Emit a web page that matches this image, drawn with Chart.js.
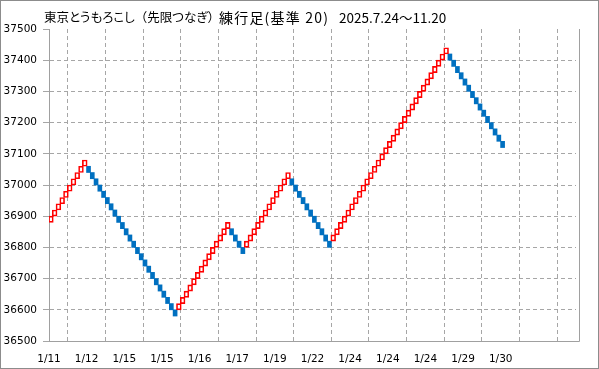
<!DOCTYPE html>
<html>
<head>
<meta charset="utf-8">
<script src="https://cdn.jsdelivr.net/npm/chart.js@4"></script>
<style>
body { margin: 0; background: #fff; }
#wrap { position: relative; width: 599px; height: 369px; box-sizing: border-box; border: 1px solid #8c8c8c; }
canvas { display: block; }
.ttl { position: absolute; top: 7px; font: 12.5px "Noto Sans CJK JP"; font-feature-settings: "palt"; color: #000; white-space: nowrap; line-height: 18px; }
.ttl .fw { font-feature-settings: normal; }
</style>
</head>
<body>
<div id="wrap">
  <canvas id="renko" width="597" height="367"></canvas>
  <span class="ttl" id="t1" style="left:43px"></span>
  <span class="ttl" id="t2" style="left:218px; font-size:14px; letter-spacing:1.2px"></span>
  <span class="ttl" id="t3" style="left:338px; font-size:13.5px"></span>
</div>
<script>
var titleName = "東京とうもろこし（先限つなぎ）";
var titleKind = "練行足(基準 20)";
var titlePeriod = "2025.7.24～11.20";
var dateLabels = ["1/11", "1/12", "1/15", "1/15", "1/16", "1/17", "1/19", "1/22", "1/24", "1/24", "1/24", "1/29", "1/30"];
var brickSize = 20;

// lower edge of each brick, one brick per slot
var brickLows = [
  36880, 36900, 36920, 36940, 36960, 36980, 37000, 37020, 37040, 37060,
  37040, 37020, 37000, 36980, 36960, 36940, 36920, 36900, 36880, 36860,
  36840, 36820, 36800, 36780, 36760, 36740, 36720, 36700, 36680, 36660,
  36640, 36620, 36600, 36580,
  36600, 36620, 36640, 36660, 36680, 36700, 36720, 36740, 36760, 36780,
  36800, 36820, 36840, 36860,
  36840, 36820, 36800, 36780,
  36800, 36820, 36840, 36860, 36880, 36900, 36920, 36940, 36960, 36980,
  37000, 37020,
  37000, 36980, 36960, 36940, 36920, 36900, 36880, 36860, 36840, 36820,
  36800,
  36820, 36840, 36860, 36880, 36900, 36920, 36940, 36960, 36980, 37000,
  37020, 37040, 37060, 37080, 37100, 37120, 37140, 37160, 37180, 37200,
  37220, 37240, 37260, 37280, 37300, 37320, 37340, 37360, 37380, 37400,
  37420,
  37400, 37380, 37360, 37340, 37320, 37300, 37280, 37260, 37240, 37220,
  37200, 37180, 37160, 37140, 37120
];
// u = up brick (red, hollow), d = down brick (blue)
var brickDir = (
  "uuuuuuuuuu" +
  "dddddddddddddddddddddddd" +
  "uuuuuuuuuuuuuu" +
  "dddd" +
  "uuuuuuuuuuuu" +
  "ddddddddddd" +
  "uuuuuuuuuuuuuuuuuuuuuuuuuuuuuuu" +
  "ddddddddddddddd"
).split("");

// full-width brackets keep their width, kana get proportional spacing
var t1 = document.getElementById("t1");
titleName.split("").forEach(function (ch) {
  if (ch === "（" || ch === "）") {
    var s = document.createElement("span");
    s.className = "fw";
    s.textContent = ch;
    t1.appendChild(s);
  } else {
    t1.appendChild(document.createTextNode(ch));
  }
});
document.getElementById("t2").textContent = titleKind;
document.getElementById("t3").textContent = titlePeriod;

var upData = [], downData = [];
brickLows.forEach(function (low, i) {
  var brick = { x: i + 0.5, y: [low, low + brickSize] };
  if (brickDir[i] === "u") upData.push(brick);
  else downData.push(brick);
});

var gridColor = "#a6a6a6";

// solid frame on the right side of the plot
var framePlugin = {
  id: "frame",
  afterDraw: function (chart) {
    var ctx = chart.ctx, a = chart.chartArea;
    ctx.save();
    ctx.strokeStyle = "#a0a0a0";
    ctx.lineWidth = 1;
    ctx.beginPath();
    ctx.moveTo(a.right, a.bottom + 0.5);
    ctx.lineTo(a.right + 3.5, a.bottom + 0.5);
    ctx.lineTo(a.right + 3.5, a.top);
    ctx.stroke();
    ctx.restore();
  }
};

var ctx = document.getElementById("renko").getContext("2d");
var renkoChart = new Chart(ctx, {
  type: "bar",
  data: {
    datasets: [{
      label: "up",
      data: upData,
      grouped: false,
      barThickness: 4.8,
      backgroundColor: "rgba(0,0,0,0)",
      borderColor: "#ff0000",
      borderWidth: 1,
      borderSkipped: false
    }, {
      label: "down",
      data: downData,
      grouped: false,
      barThickness: 4,
      backgroundColor: "#0070c0",
      borderWidth: 0
    }]
  },
  options: {
    responsive: false,
    animation: false,
    devicePixelRatio: 1,
    layout: { padding: { top: 28, right: 22, left: 0, bottom: 0 } },
    plugins: {
      legend: { display: false },
      tooltip: { enabled: false }
    },
    scales: {
      x: {
        type: "linear",
        min: 0,
        max: 140,
        offset: false,
        afterFit: function (scale) { scale.height = 27; },
        ticks: {
          stepSize: 10,
          autoSkip: false,
          maxRotation: 0,
          padding: 12,
          color: "#000",
          font: { family: "DejaVu Sans", size: 10.5 },
          callback: function (v) { return dateLabels[v / 10] || ""; }
        },
        grid: { color: gridColor, tickLength: 0 },
        border: { color: "#a0a0a0", dash: [4, 3] }
      },
      y: {
        min: 36500,
        max: 37500,
        afterFit: function (scale) { scale.width = 48; },
        ticks: {
          stepSize: 100,
          padding: 6,
          color: "#000",
          font: { family: "DejaVu Sans", size: 10.5 },
          callback: function (v) { return String(v); }
        },
        grid: {
          color: function (c) { return c.tick && c.tick.value === 37500 ? "rgba(0,0,0,0)" : gridColor; },
          tickColor: gridColor,
          tickLength: 6
        },
        border: { color: "#a0a0a0", dash: [4, 3] }
      }
    }
  },
  plugins: [framePlugin]
});
</script>
</body>
</html>
